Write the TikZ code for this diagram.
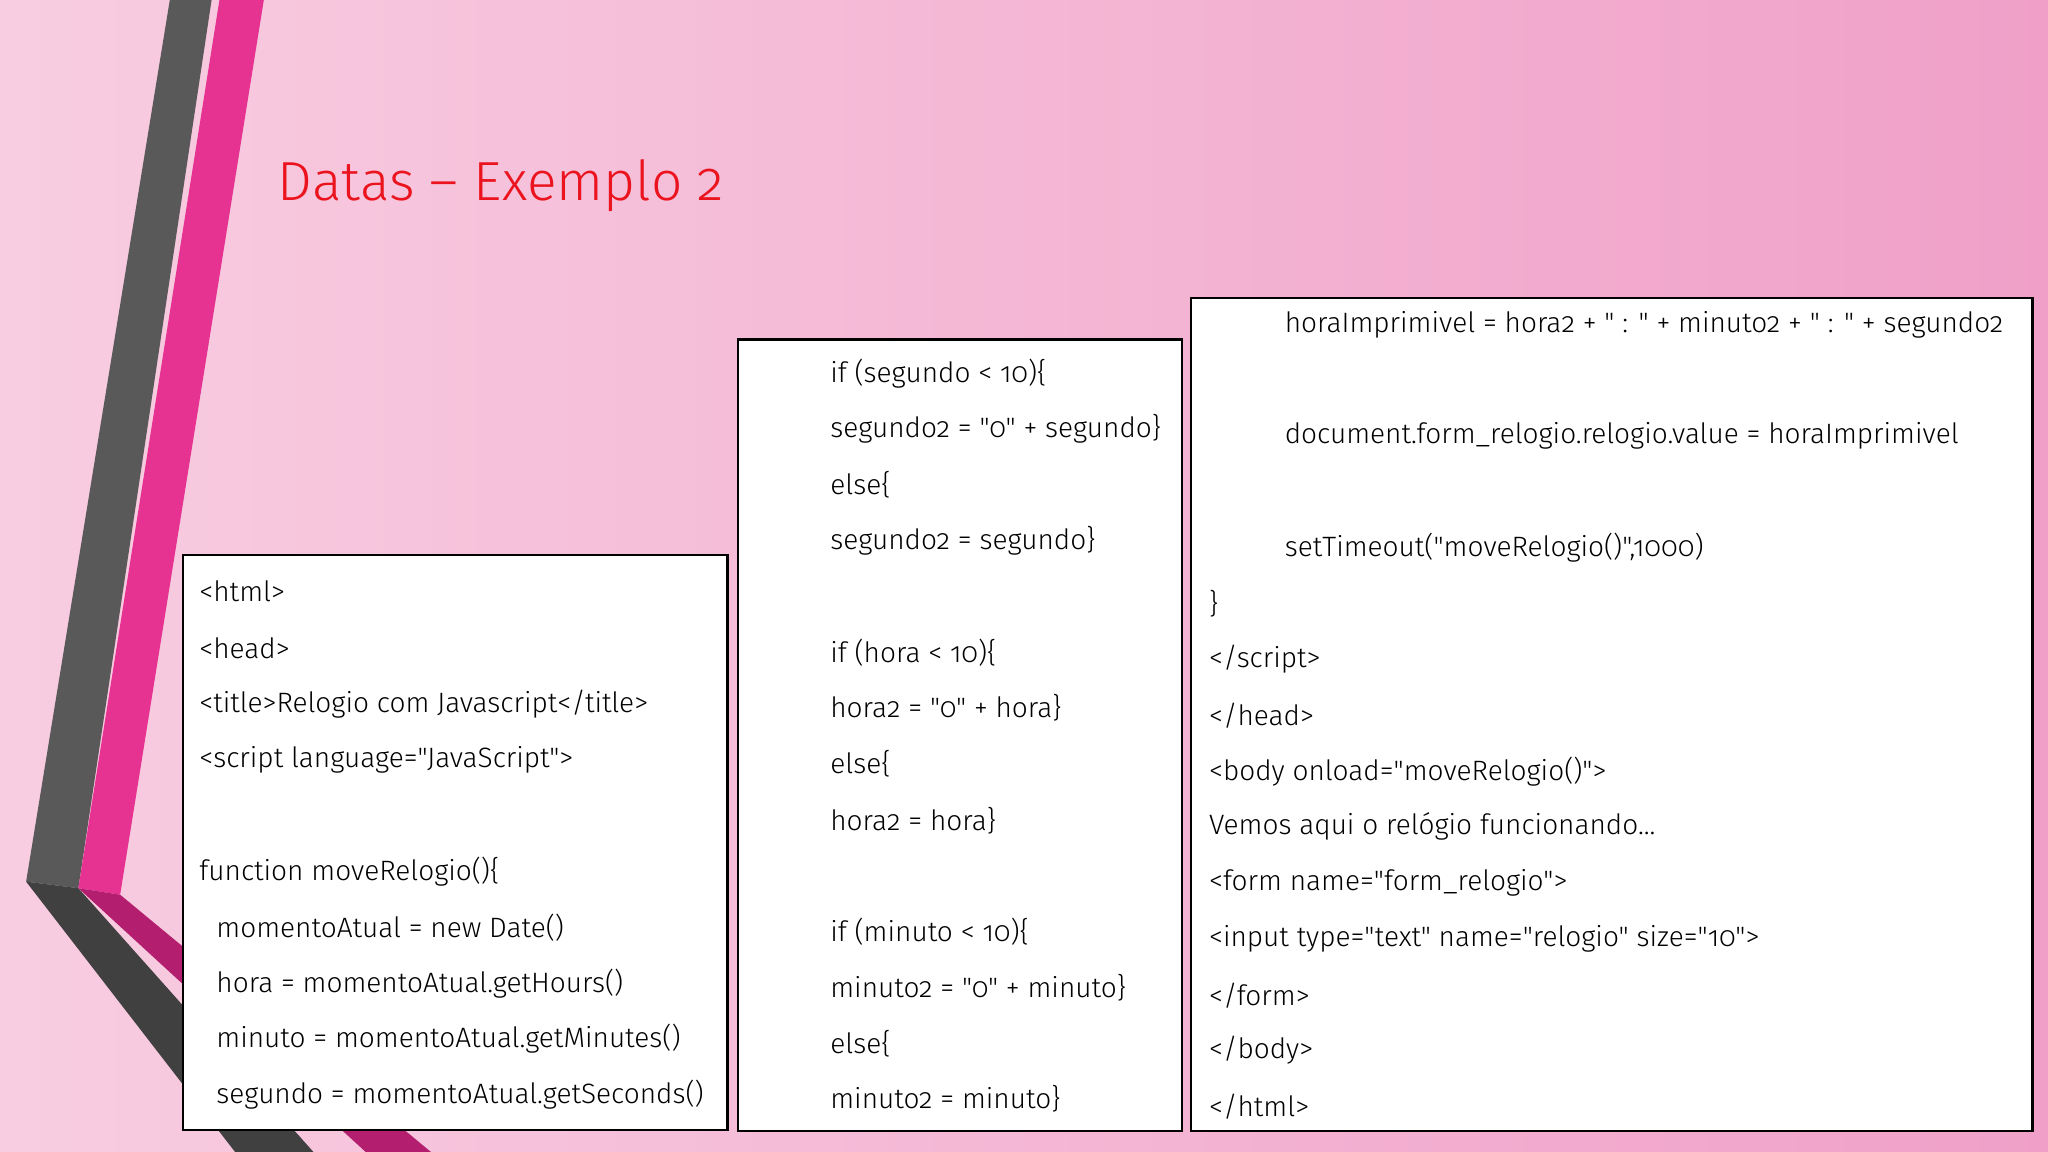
\documentclass[tikz,border=0pt]{standalone}
\usepackage{fontspec}
\setmainfont{Fira Sans Light}[Numbers=OldStyle,Ligatures=TeXOff]
\definecolor{bgL}{RGB}{248,205,225}
\definecolor{bgR}{RGB}{240,160,200}
\definecolor{stripA}{RGB}{230,50,145}
\definecolor{stripB}{RGB}{180,30,110}
\definecolor{titleC}{RGB}{235,20,30}
\begin{document}
\begin{tikzpicture}[x=0.1mm,y=-0.1mm,
  code/.style={anchor=west,inner sep=0pt,font=\fontsize{6.1pt}{7pt}\selectfont},
  box/.style={draw=black,line width=0.55pt,fill=white}]
\useasboundingbox (0,0) rectangle (1568,882);
\shade[left color=bgL,right color=bgR] (0,0) rectangle (1568,882);
\fill[black!65] (130,0)--(162,0)--(60,680)--(20,675)--cycle;
\fill[black!75] (20,675)--(60,680)--(240,882)--(180,882)--cycle;
\fill[stripA] (168,0)--(202,0)--(92,685)--(60,680)--cycle;
\fill[stripB] (60,680)--(92,685)--(330,882)--(280,882)--cycle;
\node[anchor=west,inner sep=0pt,text=titleC,font=\fontsize{12pt}{14pt}\selectfont] (title) at (212,142) {Datas – Exemplo 2};
\coordinate (b1a) at (140,425); \coordinate (b1b) at (557,865);
\coordinate (b2a) at (565,260); \coordinate (b2b) at (905,866);
\coordinate (b3a) at (912,228); \coordinate (b3b) at (1556,866);
\draw[box] (b1a) rectangle (b1b);
\draw[box] (b2a) rectangle (b2b);
\draw[box] (b3a) rectangle (b3b);
% box 1
\node[code] (a1) at (152,453) {<html>};
\node[code] (a2) at (152,496) {<head>};
\node[code] (a3) at (152,539) {<title>Relogio com Javascript</title>};
\node[code] (a4) at (152,582) {<script language="JavaScript">};
\node[code] (a5) at (152,667) {function moveRelogio()\{};
\node[code] (a6) at (165,710) {momentoAtual = new Date()};
\node[code] (a7) at (165,753) {hora = momentoAtual.getHours()};
\node[code] (a8) at (165,795) {minuto = momentoAtual.getMinutes()};
\node[code] (a9) at (165,838) {segundo = momentoAtual.getSeconds()};
% box 2
\node[code] (c1) at (635,286) {if (segundo < 10)\{};
\node[code] (c2) at (635,328) {segundo2 = "0" + segundo\}};
\node[code] (c3) at (635,371) {else\{};
\node[code] (c4) at (635,414) {segundo2 = segundo\}};
\node[code] (c5) at (635,500) {if (hora < 10)\{};
\node[code] (c6) at (635,542) {hora2 = "0" + hora\}};
\node[code] (c7) at (635,585) {else\{};
\node[code] (c8) at (635,628) {hora2 = hora\}};
\node[code] (c9) at (635,713) {if (minuto < 10)\{};
\node[code] (c10) at (635,756) {minuto2 = "0" + minuto\}};
\node[code] (c11) at (635,799) {else\{};
\node[code] (c12) at (635,841) {minuto2 = minuto\}};
% box 3
\node[code] (d1) at (983,249) {horaImprimivel = hora2 + " : " + minuto2 + " : " + segundo2};
\node[code] (d2) at (983,334) {document.form\_relogio.relogio.value = horaImprimivel};
\node[code] (d3) at (983,419) {setTimeout("moveRelogio()",1000)};
\node[code] (d4) at (925,462) {\}};
\node[code] (d5) at (925,505) {</script>};
\node[code] (d6) at (925,548) {</head>};
\node[code] (d7) at (925,591) {<body onload="moveRelogio()">};
\node[code] (d8) at (925,633) {Vemos aqui o relógio funcionando...};
\node[code] (d9) at (925,676) {<form name="form\_relogio">};
\node[code] (d10) at (925,719) {<input type="text" name="relogio" size="10">};
\node[code] (d11) at (925,762) {</form>};
\node[code] (d12) at (925,804) {</body>};
\node[code] (d13) at (925,847) {</html>};
\end{tikzpicture}
\end{document}
